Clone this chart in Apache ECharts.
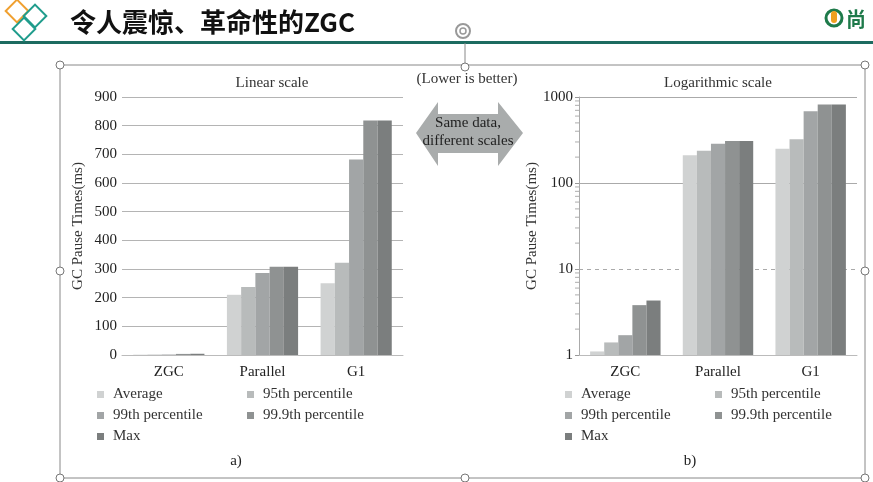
<!DOCTYPE html>
<html>
<head>
<meta charset="utf-8">
<script src="https://cdn.jsdelivr.net/npm/echarts@6/dist/echarts.min.js"></script>
<style>
  html, body { margin: 0; padding: 0; background: #fff; }
  #main { width: 873px; height: 482px; }
</style>
</head>
<body>
<div id="main"></div>
<script>
var categories = ['ZGC', 'Parallel', 'G1'];
var seriesNames = ['Average', '95th percentile', '99th percentile', '99.9th percentile', 'Max'];
var average = [1.1, 210, 250];
var p95 = [1.4, 237, 322];
var p99 = [1.7, 286, 682];
var p999 = [3.8, 308, 818];
var maxVal = [4.3, 308, 818];
var seriesValues = [average, p95, p99, p999, maxVal];
var barColors = ['#d0d2d2', '#b8bbbb', '#a2a5a6', '#8f9292', '#7b7e7e'];

var linearTicks = { min: 0, max: 900, interval: 100 };
var logGridLines = [10, 100, 1000];
var logMinorTicks = [2, 3, 4, 5, 6, 7, 8, 9, 20, 30, 40, 50, 60, 70, 80, 90, 200, 300, 400, 500, 600, 700, 800, 900];

var serif = '"Liberation Serif", "DejaVu Serif", serif';
var chart = echarts.init(document.getElementById('main'));

var series = [];
for (var g = 0; g < 2; g++) {
  for (var i = 0; i < seriesNames.length; i++) {
    var s = {
      name: seriesNames[i],
      type: 'bar',
      xAxisIndex: g,
      yAxisIndex: g,
      data: seriesValues[i],
      barGap: '0%',
      barCategoryGap: '24%',
      itemStyle: { color: barColors[i] },
      z: 3,
      silent: true
    };
    if (g == 1 && i == 0) {
      // grid lines of the log chart: 10 is dashed
      s.markLine = {
        silent: true,
        symbol: 'none',
        z: 1,
        label: { show: false },
        data: logGridLines.map(function (v) {
          return { yAxis: v, lineStyle: { color: '#aaa', width: 1, type: v == 10 ? [4, 4] : 'solid' } };
        })
      };
    }
    series.push(s);
  }
}
// log minor ticks drawn at the axis line
series.push({
  type: 'scatter',
  xAxisIndex: 2,
  yAxisIndex: 1,
  symbol: 'rect',
  symbolSize: [4, 1],
  symbolOffset: [-2, 0],
  itemStyle: { color: '#999' },
  silent: true,
  data: logMinorTicks.map(function (v) { return [0, v]; })
});

function legendPart(names, left) {
  return {
    orient: 'vertical',
    left: left,
    top: 387,
    padding: 0,
    data: names,
    itemWidth: 7,
    itemHeight: 7,
    itemGap: 6,
    icon: 'rect',
    selectedMode: false,
    textStyle: { fontFamily: serif, fontSize: 15, color: '#333', padding: [0, 0, 0, 4] }
  };
}

var axisLabelStyle = { fontFamily: serif, fontSize: 15, color: '#222' };

var option = {
  backgroundColor: '#fff',
  animation: false,
  title: [
    { text: 'Linear scale', left: 267, top: 71, textAlign: 'center', textStyle: { fontFamily: serif, fontSize: 15, fontWeight: 'normal', color: '#333' } },
    { text: 'Logarithmic scale', left: 713, top: 71, textAlign: 'center', textStyle: { fontFamily: serif, fontSize: 15, fontWeight: 'normal', color: '#333' } }
  ],
  legend: [
    legendPart(['Average', '99th percentile', 'Max'], 97),
    legendPart(['95th percentile', '99.9th percentile'], 247),
    legendPart(['Average', '99th percentile', 'Max'], 565),
    legendPart(['95th percentile', '99.9th percentile'], 715)
  ],
  grid: [
    { left: 122, right: 470, top: 97, bottom: 127 },
    { left: 579, right: 16, top: 97, bottom: 127 }
  ],
  xAxis: [
    {
      type: 'category', gridIndex: 0, data: categories,
      axisLine: { lineStyle: { color: '#bbb' } },
      axisTick: { show: false },
      axisLabel: Object.assign({ margin: 10 }, axisLabelStyle)
    },
    {
      type: 'category', gridIndex: 1, data: categories,
      axisLine: { lineStyle: { color: '#bbb' } },
      axisTick: { show: false },
      axisLabel: Object.assign({ margin: 10 }, axisLabelStyle)
    },
    { type: 'value', gridIndex: 1, min: 0, max: 1, show: false }
  ],
  yAxis: [
    {
      type: 'value', gridIndex: 0,
      min: linearTicks.min, max: linearTicks.max, interval: linearTicks.interval,
      name: 'GC Pause Times(ms)', nameLocation: 'middle', nameGap: 36,
      nameTextStyle: { fontFamily: serif, fontSize: 15, color: '#333' },
      axisLine: { show: false },
      axisTick: { show: false },
      axisLabel: Object.assign({ margin: 5 }, axisLabelStyle),
      splitLine: { lineStyle: { color: '#b4b4b4' } }
    },
    {
      type: 'log', gridIndex: 1, logBase: 10, min: 1, max: 1000,
      name: 'GC Pause Times(ms)', nameLocation: 'middle', nameGap: 34,
      nameTextStyle: { fontFamily: serif, fontSize: 15, color: '#333' },
      axisLine: { show: true, lineStyle: { color: '#aaa' } },
      axisTick: { show: true, length: 4, lineStyle: { color: '#999' } },
      axisLabel: Object.assign({ margin: 6, formatter: function (v) { return String(v); } }, axisLabelStyle),
      splitLine: { show: false }
    }
  ],
  series: series,
  graphic: [
    // header
    { type: 'rect', shape: { x: 0, y: 41, width: 873, height: 3 }, style: { fill: '#1d6b60' } },
    { type: 'rect', shape: { x: -8, y: -8, width: 16, height: 16 }, x: 17, y: 11, rotation: Math.PI / 4, style: { fill: 'none', stroke: '#f0a030', lineWidth: 2 } },
    { type: 'rect', shape: { x: -8, y: -8, width: 16, height: 16 }, x: 35, y: 16, rotation: Math.PI / 4, style: { fill: 'none', stroke: '#1f9c8c', lineWidth: 2 } },
    { type: 'rect', shape: { x: -8, y: -8, width: 16, height: 16 }, x: 24, y: 29, rotation: Math.PI / 4, style: { fill: 'none', stroke: '#1f9c8c', lineWidth: 2 } },
    { type: 'text', x: 70, y: 22, style: { text: '令人震惊、革命性的ZGC', font: 'bold 26px "Noto Sans CJK SC"', fill: '#111', verticalAlign: 'middle' } },
    { type: 'circle', shape: { cx: 834, cy: 18, r: 8 }, style: { fill: '#fff', stroke: '#1e7a4a', lineWidth: 3 } },
    { type: 'rect', shape: { x: 831, y: 11, width: 6, height: 12, r: 3 }, style: { fill: '#f0a020' } },
    { type: 'text', x: 846, y: 19, style: { text: '尚', font: 'bold 20px "Noto Sans CJK SC"', fill: '#1e7a4a', verticalAlign: 'middle' } },
    // selection frame
    { type: 'line', shape: { x1: 465, y1: 43, x2: 465, y2: 65 }, style: { stroke: '#888', lineWidth: 1 } },
    { type: 'circle', shape: { cx: 463, cy: 31, r: 7 }, style: { fill: 'none', stroke: '#999', lineWidth: 2 } },
    { type: 'circle', shape: { cx: 463, cy: 31, r: 3 }, style: { fill: 'none', stroke: '#999', lineWidth: 1.5 } },
    { type: 'rect', shape: { x: 60, y: 65, width: 805, height: 413 }, style: { fill: 'none', stroke: '#888', lineWidth: 1 } },
    { type: 'circle', shape: { cx: 60, cy: 65, r: 4 }, style: { fill: '#fff', stroke: '#777' } },
    { type: 'circle', shape: { cx: 465, cy: 67, r: 4 }, style: { fill: '#fff', stroke: '#777' } },
    { type: 'circle', shape: { cx: 865, cy: 65, r: 4 }, style: { fill: '#fff', stroke: '#777' } },
    { type: 'circle', shape: { cx: 60, cy: 271, r: 4 }, style: { fill: '#fff', stroke: '#777' } },
    { type: 'circle', shape: { cx: 865, cy: 271, r: 4 }, style: { fill: '#fff', stroke: '#777' } },
    { type: 'circle', shape: { cx: 60, cy: 478, r: 4 }, style: { fill: '#fff', stroke: '#777' } },
    { type: 'circle', shape: { cx: 465, cy: 478, r: 4 }, style: { fill: '#fff', stroke: '#777' } },
    { type: 'circle', shape: { cx: 865, cy: 478, r: 4 }, style: { fill: '#fff', stroke: '#777' } },
    // middle notes
    { type: 'text', x: 467, y: 79, style: { text: '(Lower is better)', font: '15px ' + serif, fill: '#333', align: 'center', verticalAlign: 'middle' } },
    {
      type: 'polygon',
      shape: { points: [[416, 133], [438, 102], [438, 114], [498, 114], [498, 102], [523, 133], [498, 166], [498, 153], [438, 153], [438, 166]] },
      style: { fill: '#a9acac' }
    },
    { type: 'text', x: 468, y: 123, style: { text: 'Same data,', font: '15px ' + serif, fill: '#222', align: 'center', verticalAlign: 'middle' } },
    { type: 'text', x: 468, y: 141, style: { text: 'different scales', font: '15px ' + serif, fill: '#222', align: 'center', verticalAlign: 'middle' } },
    { type: 'text', x: 236, y: 461, style: { text: 'a)', font: '15px ' + serif, fill: '#222', align: 'center', verticalAlign: 'middle' } },
    { type: 'text', x: 690, y: 461, style: { text: 'b)', font: '15px ' + serif, fill: '#222', align: 'center', verticalAlign: 'middle' } }
  ]
};

chart.setOption(option);
</script>
</body>
</html>
